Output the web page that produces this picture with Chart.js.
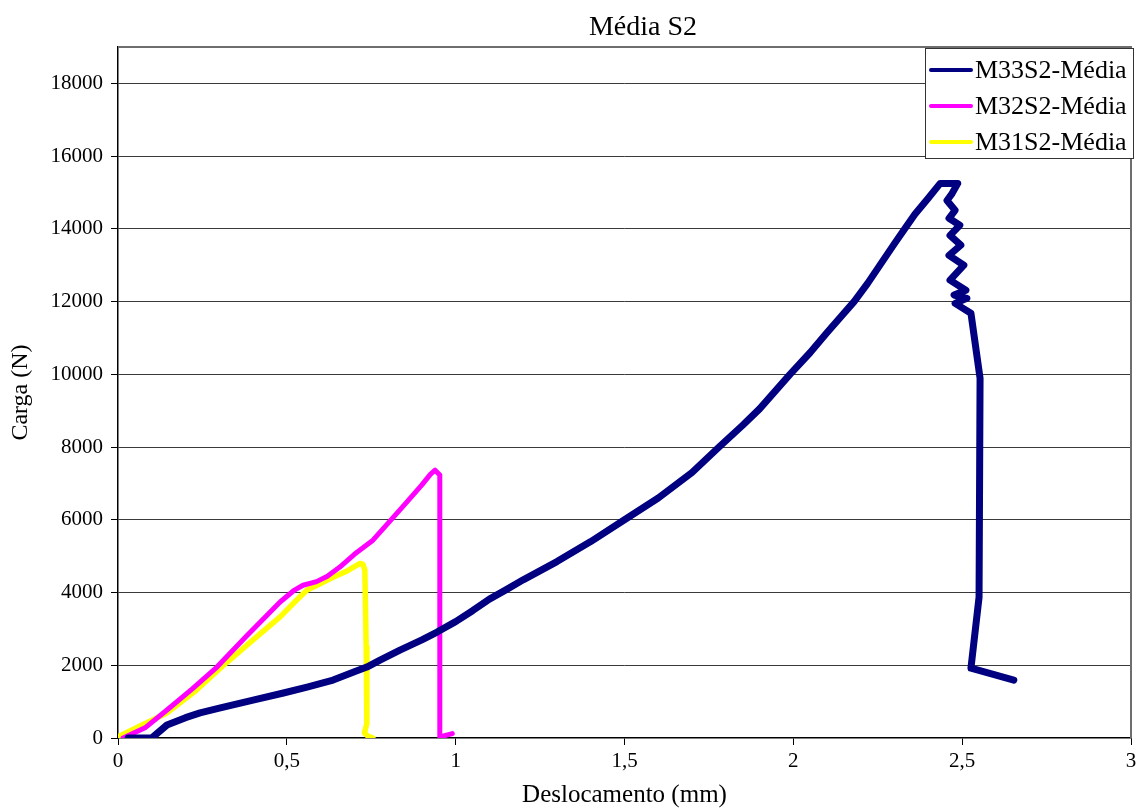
<!DOCTYPE html>
<html>
<head>
<meta charset="utf-8">
<script src="https://cdn.jsdelivr.net/npm/chart.js@4.4.1/dist/chart.umd.min.js"></script>
<style>
html,body{margin:0;padding:0;background:#fff;}
#wrap{width:1146px;height:810px;position:relative;}
</style>
</head>
<body>
<div id="wrap"><canvas id="c" width="1146" height="810"></canvas></div>
<script>
const chartTitle = 'Média S2';
const xAxisTitle = 'Deslocamento (mm)';
const yAxisTitle = 'Carga (N)';
const seriesNames = ['M33S2-Média', 'M32S2-Média', 'M31S2-Média'];
const seriesColors = ['#000080', '#FF00FF', '#FFFF00'];

const m33X = [0.03, 0.10, 0.145, 0.20, 0.243, 0.30, 0.40, 0.49, 0.56, 0.637, 0.70, 0.737, 0.776, 0.835, 0.90, 0.945, 1.00, 1.05, 1.10, 1.15, 1.20, 1.30, 1.40, 1.50, 1.60, 1.70, 1.78, 1.85, 1.90, 1.99, 2.05, 2.10, 2.18, 2.22, 2.26, 2.30, 2.33, 2.36, 2.40, 2.435, 2.487, 2.470, 2.455, 2.479, 2.461, 2.493, 2.464, 2.496, 2.461, 2.505, 2.464, 2.511, 2.476, 2.514, 2.479, 2.526, 2.553, 2.550, 2.526, 2.653];
const m33Y = [0, 0, 357, 560, 690, 820, 1040, 1237, 1400, 1594, 1820, 1950, 2143, 2418, 2700, 2913, 3200, 3500, 3820, 4080, 4350, 4850, 5400, 6000, 6600, 7300, 8000, 8600, 9050, 10000, 10600, 11150, 12000, 12500, 13050, 13600, 14000, 14400, 14850, 15250, 15250, 14970, 14780, 14510, 14290, 14100, 13820, 13550, 13270, 13000, 12590, 12310, 12180, 12090, 11950, 11680, 9890, 3870, 1920, 1590];

const m32X = [0.015, 0.08, 0.145, 0.22, 0.293, 0.38, 0.48, 0.52, 0.548, 0.588, 0.62, 0.657, 0.70, 0.755, 0.80, 0.85, 0.90, 0.925, 0.939, 0.953, 0.953, 0.953, 0.99];
const m32Y = [0, 280, 770, 1350, 1950, 2800, 3740, 4050, 4200, 4300, 4450, 4700, 5050, 5440, 5910, 6430, 6960, 7250, 7365, 7230, 3000, 30, 120];

const m31X = [0, 0.07, 0.145, 0.23, 0.32, 0.40, 0.48, 0.53, 0.56, 0.60, 0.637, 0.68, 0.717, 0.725, 0.731, 0.735, 0.737, 0.73, 0.74, 0.755];
const m31Y = [30, 350, 690, 1300, 2060, 2700, 3330, 3800, 4070, 4250, 4420, 4600, 4800, 4780, 4620, 2500, 400, 140, 50, 0];

const xTicks = [0, 0.5, 1, 1.5, 2, 2.5, 3];
const yTicks = [0, 2000, 4000, 6000, 8000, 10000, 12000, 14000, 16000, 18000];

const pts = (xs, ys) => xs.map((x, i) => ({x: x, y: ys[i]}));
const FONT = "'Liberation Serif', 'Times New Roman', serif";

const framePlugin = {
  id: 'frame',
  beforeDatasetsDraw(chart) {
    const {ctx, chartArea: a} = chart;
    ctx.save();
    ctx.strokeStyle = '#6e6e6e';
    ctx.lineWidth = 2;
    ctx.beginPath();
    ctx.moveTo(a.left, a.top);
    ctx.lineTo(a.right, a.top);
    ctx.lineTo(a.right, a.bottom);
    ctx.stroke();
    ctx.restore();
  },
  afterDraw(chart) {
    const {ctx} = chart;
    ctx.save();
    ctx.fillStyle = '#000';
    ctx.font = '28px ' + FONT;
    ctx.textAlign = 'center';
    ctx.textBaseline = 'middle';
    ctx.fillText(chartTitle, 643, 28);
    const bx = 925, by = 48, bw = 208, bh = 110;
    ctx.fillStyle = '#fff';
    ctx.fillRect(bx, by, bw, bh);
    ctx.strokeStyle = '#333';
    ctx.lineWidth = 1;
    ctx.strokeRect(bx + 0.5, by + 0.5, bw, bh);
    ctx.font = '26px ' + FONT;
    ctx.textAlign = 'left';
    chart.data.datasets.forEach((ds, i) => {
      const yy = by + 22 + i * 36;
      ctx.strokeStyle = ds.borderColor;
      ctx.lineWidth = 4;
      ctx.lineCap = 'round';
      ctx.beginPath();
      ctx.moveTo(931, yy);
      ctx.lineTo(971, yy);
      ctx.stroke();
      ctx.fillStyle = '#000';
      ctx.fillText(ds.label, 975, yy + 1);
    });
    ctx.restore();
  }
};

new Chart(document.getElementById('c'), {
  type: 'scatter',
  data: {
    datasets: [
      {label: seriesNames[0], data: pts(m33X, m33Y), borderColor: seriesColors[0], backgroundColor: seriesColors[0], borderWidth: 7, showLine: true, pointRadius: 0, tension: 0, borderJoinStyle: 'round', borderCapStyle: 'round'},
      {label: seriesNames[1], data: pts(m32X, m32Y), borderColor: seriesColors[1], backgroundColor: seriesColors[1], borderWidth: 5, showLine: true, pointRadius: 0, tension: 0, borderJoinStyle: 'round', borderCapStyle: 'round'},
      {label: seriesNames[2], data: pts(m31X, m31Y), borderColor: seriesColors[2], backgroundColor: seriesColors[2], borderWidth: 5.5, showLine: true, pointRadius: 0, tension: 0, borderJoinStyle: 'round', borderCapStyle: 'round'}
    ]
  },
  options: {
    responsive: false,
    animation: false,
    layout: {padding: {left: 0, right: 15, top: 47, bottom: 0}},
    plugins: {legend: {display: false}, title: {display: false}, tooltip: {enabled: false}},
    scales: {
      x: {
        type: 'linear', min: 0, max: 3,
        afterBuildTicks: s => { s.ticks = xTicks.map(v => ({value: v})); },
        afterFit: s => { s.height = 72; },
        ticks: {color: '#000', font: {family: FONT, size: 21}, padding: 4, maxRotation: 0,
          callback: v => String(v).replace('.', ',')},
        grid: {drawOnChartArea: false, drawTicks: true, tickLength: 7, tickColor: '#000'},
        border: {color: '#000', width: 1.5},
        title: {display: true, text: xAxisTitle, color: '#000', font: {family: FONT, size: 25}, padding: {top: 0, bottom: 0}}
      },
      y: {
        type: 'linear', min: 0, max: 19000,
        afterBuildTicks: s => { s.ticks = yTicks.map(v => ({value: v})); },
        afterFit: s => { s.width = 118; },
        ticks: {color: '#000', font: {family: FONT, size: 21}, padding: 8, callback: v => String(v)},
        grid: {color: ctx => (ctx.tick && ctx.tick.value === 0) ? 'rgba(0,0,0,0)' : '#3a3a3a', lineWidth: 1, drawTicks: true, tickLength: 7, tickColor: '#000'},
        border: {color: '#000', width: 1.5},
        title: {display: true, text: yAxisTitle, color: '#000', font: {family: FONT, size: 24}, padding: {top: 6, bottom: 0}}
      }
    }
  },
  plugins: [framePlugin]
});
</script>
</body>
</html>
